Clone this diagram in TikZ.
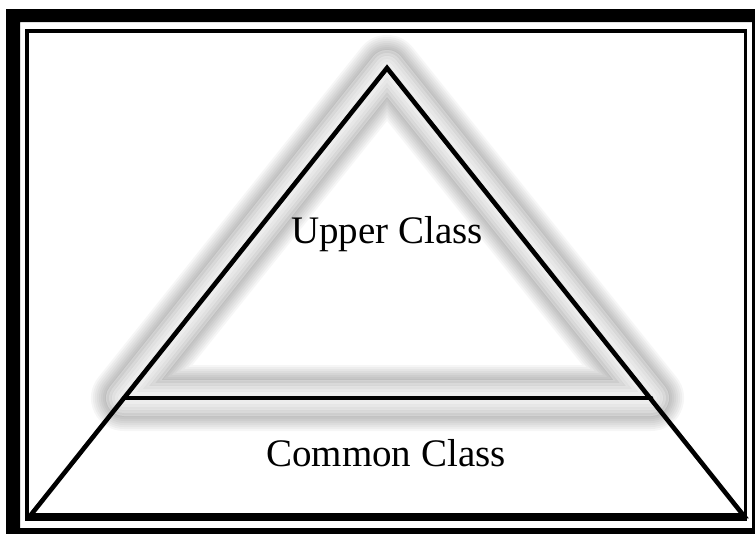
\documentclass[tikz,border=0pt]{standalone}
\usepackage{fontspec}
\setmainfont{Liberation Serif}
\tikzset{
  frameline/.style={line width=3.5pt},
  edge/.style={line width=4.6pt,line cap=round,line join=miter},
  glowline/.style={black,opacity=0.035,line join=round},
  glowgap/.style={white,opacity=0.3,line join=round},
  classlabel/.style={anchor=base,font=\fontsize{39}{46}\selectfont}
}
\begin{document}
\begin{tikzpicture}[x=1pt,y=-1pt]
  \useasboundingbox (0,0) rectangle (755,533);
  \clip (0,0) rectangle (755,533);
  % outer black band and inner thin frame
  \fill[even odd rule] (6,9) rectangle (775,550) (20,22) rectangle (752,528);
  \draw[frameline] (27,31) rectangle (745.5,519.5);
  % corners of the pyramid
  \coordinate (apex) at (387,68);
  \coordinate (bl) at (30,516);
  \coordinate (br) at (744,516);
  \coordinate (ml) at (124,398);
  \coordinate (mr) at (651,398);
  % soft glow round the upper part
  \foreach \w in {66,62,...,14} \draw[glowline,line width=\w] (apex) -- (ml) -- (mr) -- cycle;
  \foreach \w in {36,30,24,18,12} \draw[glowgap,line width=\w] (apex) -- (ml) -- (mr) -- cycle;
  \draw[edge] (bl) -- (apex) -- (br) -- cycle;
  \draw[line width=6pt] (bl) -- (br);
  \draw[edge] (ml) -- (mr);
  \node[classlabel] (upper) at (387,243) {Upper Class};
  \node[classlabel] (common) at (386,466) {Common Class};
\end{tikzpicture}
\end{document}
